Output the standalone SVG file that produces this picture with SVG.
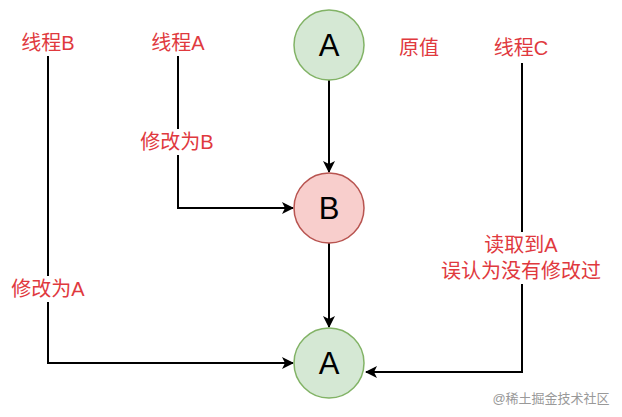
<svg xmlns="http://www.w3.org/2000/svg" width="622" height="417" viewBox="0 0 622 417">
<style>
.lbl{font-family:"Liberation Sans","Noto Sans CJK SC",sans-serif;font-size:20px;fill:#e0393e;text-anchor:middle}
.nt{font-family:"Liberation Sans",sans-serif;font-size:31px;fill:#000;text-anchor:middle}
.g{fill:#d5e8d4;stroke:#82b366;stroke-width:1.5}
.r{fill:#f8cecc;stroke:#b85450;stroke-width:1.5}
.c{fill:none;stroke:#000;stroke-width:2}
.bg{fill:#fff}
</style>
<defs>
<marker id="ah" markerWidth="12" markerHeight="12" viewBox="0 0 12 12" refX="11" refY="6" orient="auto" markerUnits="userSpaceOnUse">
<path d="M0,0 L12,6 L0,12 L3,6 Z" fill="#000"/>
</marker>
</defs>
<rect width="622" height="417" fill="#fff"/>
<g id="connectors">
<path class="c" d="M329,80 L329,172" marker-end="url(#ah)"/>
<path class="c" d="M329,243 L329,327" marker-end="url(#ah)"/>
<path class="c" d="M178,56 L178,208 L293,208" marker-end="url(#ah)"/>
<path class="c" d="M48,56 L48,363 L293,363" marker-end="url(#ah)"/>
<path class="c" d="M522,63 L522,372 L366,372" marker-end="url(#ah)"/>
</g>
<g id="node-A-top"><circle class="g" cx="329" cy="45" r="35"/><text class="nt" x="329" y="56">A</text></g>
<g id="node-B"><circle class="r" cx="329" cy="208" r="35"/><text class="nt" x="329" y="219">B</text></g>
<g id="node-A-bottom"><circle class="g" cx="329" cy="363" r="35"/><text class="nt" x="329" y="374">A</text></g>
<g id="label-threadB"><text class="lbl" x="48" y="50">线程B</text></g>
<g id="label-threadA"><text class="lbl" x="178" y="50">线程A</text></g>
<g id="label-orig"><text class="lbl" x="419" y="55">原值</text></g>
<g id="label-threadC"><text class="lbl" x="521" y="55">线程C</text></g>
<g id="label-modB"><rect class="bg" x="134" y="129" width="88" height="26"/><text class="lbl" x="177" y="149">修改为B</text></g>
<g id="label-modA"><rect class="bg" x="6" y="276" width="86" height="26"/><text class="lbl" x="48" y="296">修改为A</text></g>
<g id="label-read"><rect class="bg" x="432" y="232" width="180" height="52"/><text class="lbl" x="521" y="252">读取到A</text><text class="lbl" x="521" y="278">误认为没有修改过</text></g>
<text x="551" y="403" style="font-family:'Liberation Sans','Noto Sans CJK SC',sans-serif;font-size:13px;fill:#999;text-anchor:middle">@稀土掘金技术社区</text>
</svg>
